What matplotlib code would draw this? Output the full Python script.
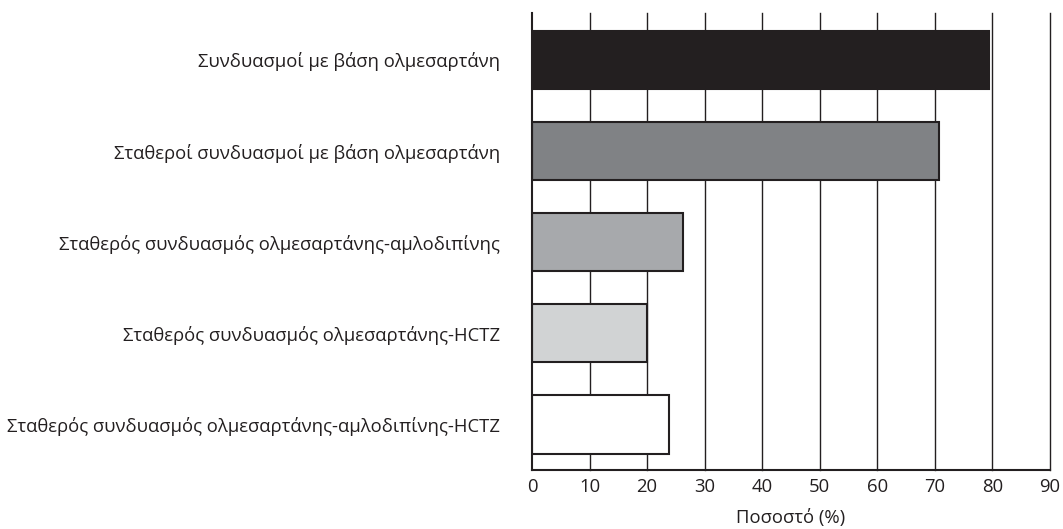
import matplotlib
matplotlib.use("Agg")
import matplotlib.pyplot as plt

categories = [
    "Συνδυασμοί με βάση ολμεσαρτάνη",
    "Σταθεροί συνδυασμοί με βάση ολμεσαρτάνη",
    "Σταθερός συνδυασμός ολμεσαρτάνης-αμλοδιπίνης",
    "Σταθερός συνδυασμός ολμεσαρτάνης-HCTZ",
    "Σταθερός συνδυασμός ολμεσαρτάνης-αμλοδιπίνης-HCTZ",
]
values = [79.4, 70.7, 26.2, 20.0, 23.8]
colors = ["#231f20", "#808285", "#a7a9ac", "#d1d3d4", "#ffffff"]
xticks = [0, 10, 20, 30, 40, 50, 60, 70, 80, 90]
xlabel = "Ποσοστό (%)"

plt.rcParams['font.family'] = ['Open Sans', 'DejaVu Sans']

fig = plt.figure(figsize=(10.63, 5.29), dpi=100)
ax = fig.add_axes([532/1063, 1 - 470/529, (1050 - 532)/1063, (470 - 13)/529])

ax.set_axisbelow(True)
for x in xticks[1:]:
    ax.axvline(x, color="#231f20", lw=1.0, zorder=0, clip_on=False)

ypos = list(range(len(categories)))
ax.barh(ypos, values, height=0.64, color=colors, edgecolor="#231f20", linewidth=1.5, zorder=2)

fs = 13.3
ax.set_xlim(0, 90)
ax.set_ylim(4.5, -0.515)
ax.set_yticks(ypos)
ax.set_yticklabels(categories, fontsize=fs, color="#231f20")
ax.set_xticks(xticks)
ax.set_xticklabels([str(t) for t in xticks], fontsize=fs, color="#231f20")
ax.tick_params(axis='y', length=0, pad=23)
ax.tick_params(axis='x', length=0, pad=6)
ax.set_xlabel(xlabel, fontsize=fs, color="#231f20", labelpad=9)

for s in ["top", "right"]:
    ax.spines[s].set_visible(False)
for s in ["left", "bottom"]:
    ax.spines[s].set_linewidth(1.5)
    ax.spines[s].set_color("#231f20")

fig.savefig("out.png", dpi=100)
